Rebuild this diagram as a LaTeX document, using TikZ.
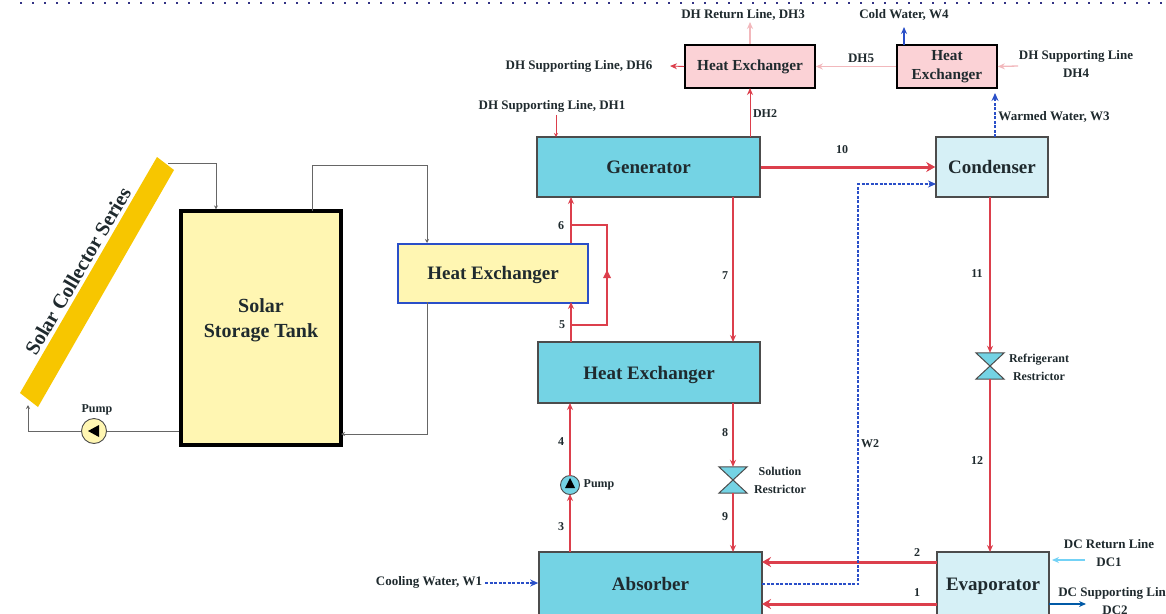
\documentclass[tikz,border=0pt]{standalone}
\usepackage{fontspec}
\setmainfont{Liberation Serif}
\usepackage{xcolor}
\usetikzlibrary{arrows.meta}
\definecolor{tealfill}{HTML}{74D3E4}
\definecolor{icefill}{HTML}{D6F0F6}
\definecolor{creamfill}{HTML}{FFF6B2}
\definecolor{pinkfill}{HTML}{FBD2D6}
\definecolor{redline}{HTML}{DC3F4C}
\definecolor{paleline}{HTML}{F2B8BC}
\definecolor{blueline}{HTML}{2A4FC8}
\definecolor{inkdark}{HTML}{1F2A2E}
\definecolor{collectorfill}{HTML}{F7C600}
\begin{document}
\begin{tikzpicture}[x=1pt,y=-1pt,>={Stealth[length=7pt,width=6pt]},
  box/.style={draw=#1,line width=1.6pt,inner sep=0pt,font=\bfseries\fontsize{19}{21}\selectfont,text=inkdark,align=center},
  oneline/.style={text height=13pt,text depth=0pt},
  smallbox/.style={font=\bfseries\fontsize{15.3}{19}\selectfont},
  lab/.style={font=\bfseries\fontsize{13}{18}\selectfont,text=inkdark,align=center,inner sep=0pt},
  labsmall/.style={font=\bfseries\fontsize{12}{18}\selectfont,text=inkdark,align=center,inner sep=0pt},
  num/.style={font=\bfseries\fontsize{12}{14}\selectfont,text=inkdark,inner sep=0pt},
  hot/.style={->,draw=redline,fill=redline,line width=1.3pt},
  hotthick/.style={->,draw=redline,line width=3pt,>={Stealth[length=9pt,width=10pt]}},
  pale/.style={->,draw=paleline,line width=1.3pt},
  water/.style={->,draw=blueline,line width=1.2pt,dash pattern=on 3pt off 1.5pt,>={Stealth[length=8pt,width=7pt]}},
  wire/.style={->,draw=black!60,line width=1pt,>={Stealth[length=4pt,width=4pt]}},
  valve/.style={minimum width=28pt,minimum height=26pt,inner sep=0pt},
  pumpc/.style={draw=black!70,circle,line width=.9pt,minimum size=#1,inner sep=0pt}]
\clip (0,0) rectangle (1166,613);
\fill[white] (0,0) rectangle (1166,613);
\coordinate (dotsL) at (20,3);
\coordinate (dotsR) at (1166,3);
\draw[draw=blue!40!black!80,line width=1.6pt,dash pattern=on 1.8pt off 10.2pt] (dotsL) -- (dotsR);

% collector and tank
\fill[fill=collectorfill] (157,157) -- (174,170) -- (38,407) -- (20,393) -- cycle;
\node[font=\bfseries\fontsize{20.5}{24}\selectfont,text=inkdark,rotate=59.8,inner sep=0pt] (collector) at (78,271) {Solar Collector Series};
\coordinate (collectorT) at (168,163);
\coordinate (collectorB) at (28,405);
\node[box=black,line width=3.2pt,fill=creamfill,minimum width=160pt,minimum height=234pt] (tank) at (261,328) {};
\node[font=\bfseries\fontsize{20}{25}\selectfont,text=inkdark,align=center,inner sep=0pt] (tanklabel) at (261,320.5) {Solar\\Storage Tank};
\node[box=blueline,oneline,line width=2pt,fill=creamfill,minimum width=190pt,minimum height=59pt] (hxsolar) at (493,273) {Heat Exchanger};

% main units
\node[box=black!70,oneline,fill=tealfill,minimum width=223pt,minimum height=60pt] (generator) at (648.5,167) {Generator};
\node[box=black!70,oneline,fill=tealfill,minimum width=222pt,minimum height=61pt] (hxmain) at (649,372.5) {Heat Exchanger};
\node[box=black!70,oneline,fill=tealfill,minimum width=223pt,minimum height=64pt] (absorber) at (650.5,584) {Absorber};
\node[box=black!70,oneline,fill=icefill,minimum width=112pt,minimum height=60pt] (condenser) at (992,167) {Condenser};
\node[box=black!70,oneline,fill=icefill,minimum width=112pt,minimum height=64pt] (evaporator) at (993,584) {Evaporator};
\node[box=black,smallbox,fill=pinkfill,minimum width=130pt,minimum height=43pt] (hxdh) at (750,66.5) {Heat Exchanger};
\node[box=black,smallbox,fill=pinkfill,minimum width=100pt,minimum height=43pt] (hxcold) at (947,66.5) {Heat\\Exchanger};

% pumps and restrictors
\node[pumpc=25pt,fill=creamfill] (pumpsolar) at (94,431) {};
\node[pumpc=19pt,fill=tealfill] (pumpmain) at (570,485) {};
\node[valve] (solvalve) at (733,480) {};
\node[valve] (refvalve) at (990,366) {};
\foreach \v in {solvalve,refvalve}
  \draw[draw=black!70,fill=tealfill,line width=1pt] (\v.north west) -- (\v.north east) -- (\v.south west) -- (\v.south east) -- cycle;
\fill[black] (88,431) -- (99,425) -- (99,437) -- cycle;
\fill[black] (570,478) -- (565,488) -- (575,488) -- cycle;

% solar loop
\draw[wire] (collectorT) -- (216,163) -- (216,163 |- tank.north);
\draw[wire] (312,211) -- (312,165) -- (427,165) -- (427,243);
\draw[wire] (427,302) -- (427,434) -- (341,434);
\draw[draw=black!60,line width=1pt] (tank.west |- pumpsolar) -- (pumpsolar);
\draw[wire] (pumpsolar) -- (28,431) -- (collectorB);

% solution and refrigerant
\draw[hot] (570,552) -- (570,494);
\draw[hot] (570,476) -- (570,403);
\draw[hot] (571,342) -- (571,302);
\draw[hot] (571,243) -- (571,197);
\draw[draw=redline,line width=2pt] (571,325) -- (607,325) -- (607,225) -- (571,225);
\fill[redline] (607,270) -- (603,278) -- (611,278) -- cycle;
\draw[hot] (733,197) -- (733,342);
\draw[hot] (733,403) -- (solvalve.north);
\draw[hot] (solvalve.south) -- (733,552);
\draw[hotthick] (generator.east) -- (condenser.west);
\draw[hot] (990,197) -- (refvalve.north);
\draw[hot] (refvalve.south) -- (990,552);
\draw[hotthick] (937,562) -- (762,562);
\draw[hotthick] (937,604) -- (762,604);

% water lines
\coordinate (w1start) at (485,583);
\draw[water] (w1start) -- (absorber.west |- w1start);
\draw[water] (762,584) -- (858,584) -- (858,184) -- (936,184);
\draw[water] (995,137) -- (995,93);
\draw[->,draw=blueline,line width=1.2pt] (904,45) -- (904,27);

% district lines
\coordinate (dh1start) at (556,115);
\coordinate (dh3end) at (750,22);
\coordinate (dh4start) at (1018,66);
\coordinate (dh6end) at (670,66);
\draw[hot,line width=.9pt] (750,137) -- (750,88);
\draw[pale] (hxdh.north) -- (dh3end);
\draw[pale] (hxcold.west) -- (hxdh.east);
\draw[pale] (dh4start) -- (hxcold.east);
\draw[hot,line width=.9pt] (hxdh.west) -- (dh6end);
\draw[hot,line width=.7pt,>={Stealth[length=4pt,width=4pt]}] (dh1start) -- (556,137);
\coordinate (dc1start) at (1085,560);
\coordinate (dc1end) at (1052,560);
\coordinate (dc2end) at (1086,604);
\draw[->,draw=cyan!55!white,line width=1.2pt] (dc1start) -- (dc1end);
\draw[->,draw=teal!70!blue,line width=1.4pt] (1049,604) -- (dc2end);

% labels
\node[lab] (ldh3) at (743,15) {DH Return Line, DH3};
\node[lab] (lw4) at (904,15) {Cold Water, W4};
\node[lab] (ldh6) at (579,66) {DH Supporting Line, DH6};
\node[lab] (ldh5) at (861,58) {DH5};
\node[lab] (ldh4) at (1076,64) {DH Supporting Line\\DH4};
\node[lab] (ldh1) at (552,106) {DH Supporting Line, DH1};
\node[labsmall] (ldh2) at (765,114) {DH2};
\node[lab] (lw3) at (1054,117) {Warmed Water, W3};
\node[labsmall] (lpumpsolar) at (97,410) {Pump};
\node[labsmall] (lpumpmain) at (599,485) {Pump};
\node[labsmall] (lsolvalve) at (780,480) {Solution\\Restrictor};
\node[labsmall] (lrefvalve) at (1039,367) {Refrigerant\\Restrictor};
\node[labsmall] (lw2) at (870,444) {W2};
\node[lab] (lw1) at (429,582) {Cooling Water, W1};
\node[lab] (ldc1) at (1109,553) {DC Return Line\\DC1};
\node[lab] (ldc2) at (1115,601) {DC Supporting Line\\DC2};
\node[num] (n1) at (917,593) {1};
\node[num] (n2) at (917,553) {2};
\node[num] (n3) at (561,527) {3};
\node[num] (n4) at (561,442) {4};
\node[num] (n5) at (562,325) {5};
\node[num] (n6) at (561,226) {6};
\node[num] (n7) at (725,276) {7};
\node[num] (n8) at (725,433) {8};
\node[num] (n9) at (725,517) {9};
\node[num] (n10) at (842,150) {10};
\node[num] (n11) at (977,274) {11};
\node[num] (n12) at (977,461) {12};
\end{tikzpicture}
\end{document}
